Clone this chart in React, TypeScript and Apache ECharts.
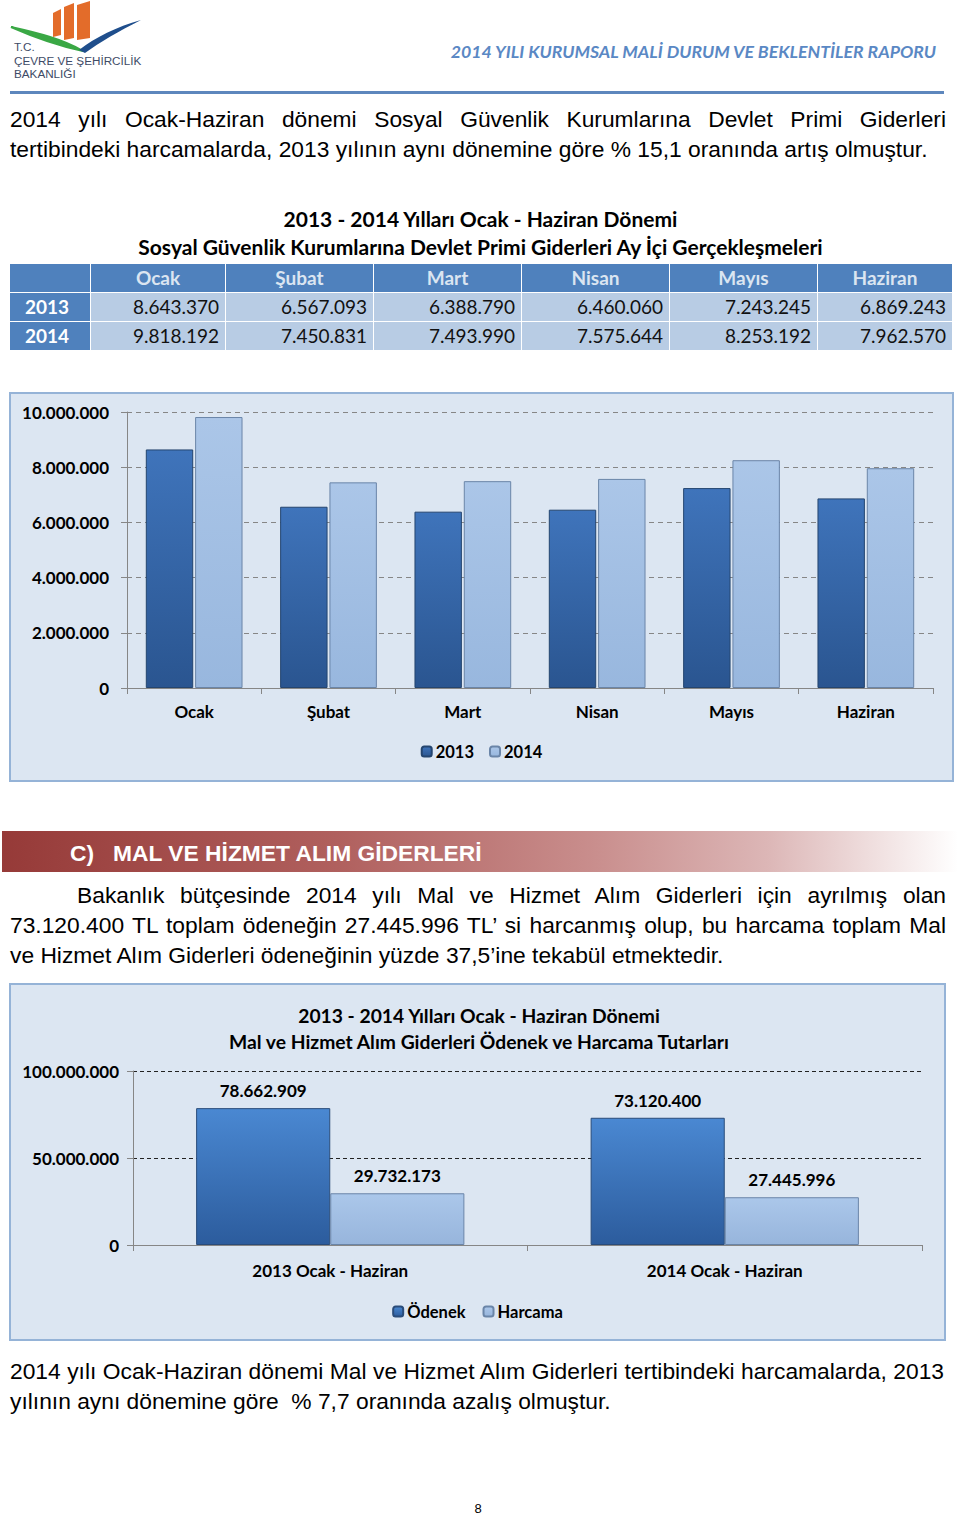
import React, { useEffect, useRef } from 'react';
import * as echarts from 'echarts';

// ---------- DATA ----------
const MONTHS = ['Ocak', 'Şubat', 'Mart', 'Nisan', 'Mayıs', 'Haziran'];
const YEARS = ['2013', '2014'];
const VALUES_2013 = [8643370, 6567093, 6388790, 6460060, 7243245, 6869243];
const VALUES_2014 = [9818192, 7450831, 7493990, 7575644, 8253192, 7962570];

const PERIODS = ['2013 Ocak - Haziran', '2014 Ocak - Haziran'];
const SERIES2 = ['Ödenek', 'Harcama'];
const ODENEK = [78662909, 73120400];
const HARCAMA = [29732173, 27445996];

const Y1_MAX = 10000000;
const Y1_STEP = 2000000;
const Y2_MAX = 100000000;
const Y2_STEP = 50000000;

// ---------- LAYOUT / STYLE ----------
const CAL = 'Lato, "Open Sans", sans-serif';
const ARIAL = '"Liberation Sans", Arial, sans-serif';
const TABLE_EDGES = [10, 90, 225, 373, 521, 669, 817, 952];
const BODY_SIZE = 22.8;

const fmt = (n: number) => String(n).replace(/\B(?=(\d{3})+(?!\d))/g, '.');

const grad = (a: string, b: string) =>
  new echarts.graphic.LinearGradient(0, 0, 0, 1, [
    { offset: 0, color: a },
    { offset: 1, color: b },
  ]);

function EChart({ option, style }: { option: any; style: React.CSSProperties }) {
  const ref = useRef<HTMLDivElement>(null);
  useEffect(() => {
    const c = echarts.init(ref.current!, undefined, { renderer: 'svg' });
    c.setOption(option);
    return () => c.dispose();
  }, []);
  return <div ref={ref} style={style} />;
}

const axisLabelStyle = { fontFamily: CAL, fontWeight: 'bold' as const, fontSize: 17, color: '#000' };

function chart1Option() {
  return {
    animation: false,
    grid: { left: 118, right: 21, top: 20, bottom: 94 },
    legend: {
      data: YEARS,
      top: 346,
      left: 'center',
      itemWidth: 10,
      itemHeight: 10,
      itemGap: 15,
      textStyle: { ...axisLabelStyle, fontSize: 16.5, padding: [0, 0, 0, -1] },
    },
    xAxis: {
      type: 'category',
      data: MONTHS,
      axisLine: { lineStyle: { color: '#868686', width: 1 } },
      axisTick: { show: true, length: 6, interval: 0, lineStyle: { color: '#868686' } },
      axisLabel: { ...axisLabelStyle, margin: 15 },
    },
    yAxis: {
      type: 'value',
      min: 0,
      max: Y1_MAX,
      interval: Y1_STEP,
      axisLine: { show: true, lineStyle: { color: '#868686' } },
      axisTick: { show: true, length: 6, lineStyle: { color: '#868686' } },
      splitLine: { lineStyle: { type: [5, 4], color: '#868686' } },
      axisLabel: { ...axisLabelStyle, margin: 18, formatter: (v: number) => fmt(v) },
    },
    series: [
      {
        type: 'bar',
        name: YEARS[0],
        data: VALUES_2013,
        barGap: '4%',
        barCategoryGap: '28%',
        itemStyle: { color: grad('#3f74bb', '#2a5590'), borderColor: '#24456f', borderWidth: 1 },
      },
      {
        type: 'bar',
        name: YEARS[1],
        data: VALUES_2014,
        itemStyle: { color: grad('#abc6e8', '#98b7de'), borderColor: '#6a85a8', borderWidth: 1 },
      },
    ],
  };
}

function chart2Option() {
  const lbl = { show: true, position: 'top', distance: 9, ...axisLabelStyle, formatter: (p: any) => fmt(p.value) };
  return {
    animation: false,
    title: {
      text: '2013 - 2014 Yılları Ocak - Haziran Dönemi\nMal ve Hizmet Alım Giderleri Ödenek ve Harcama Tutarları',
      left: 465,
      top: 14,
      textAlign: 'center',
      textStyle: { fontFamily: CAL, fontWeight: 'bold', fontSize: 19.3, lineHeight: 26, color: '#000', align: 'center' },
    },
    grid: { left: 124, right: 24, top: 88, bottom: 96 },
    legend: {
      data: SERIES2,
      top: 315,
      left: 'center',
      itemWidth: 10,
      itemHeight: 10,
      itemGap: 17,
      textStyle: { ...axisLabelStyle, fontSize: 16.5, padding: [0, 0, 0, -1] },
    },
    xAxis: {
      type: 'category',
      data: PERIODS,
      axisLine: { lineStyle: { color: '#868686' } },
      axisTick: { show: true, length: 6, interval: 0, lineStyle: { color: '#868686' } },
      axisLabel: { ...axisLabelStyle, margin: 17 },
    },
    yAxis: {
      type: 'value',
      min: 0,
      max: Y2_MAX,
      interval: Y2_STEP,
      axisLine: { show: true, lineStyle: { color: '#868686' } },
      axisTick: { show: true, length: 6, lineStyle: { color: '#868686' } },
      splitLine: { lineStyle: { type: [4, 3], color: '#222' } },
      axisLabel: { ...axisLabelStyle, margin: 14, formatter: (v: number) => fmt(v) },
    },
    series: [
      {
        type: 'bar',
        name: SERIES2[0],
        data: ODENEK,
        barGap: '0%',
        barCategoryGap: '32%',
        label: lbl,
        itemStyle: { color: grad('#4a88d2', '#2c5c9d'), borderColor: '#2a4c7a', borderWidth: 1 },
      },
      {
        type: 'bar',
        name: SERIES2[1],
        data: HARCAMA,
        label: lbl,
        itemStyle: { color: grad('#abc7ea', '#97b5dc'), borderColor: '#6a85a8', borderWidth: 1 },
      },
    ],
  };
}

function TextLine({ y, x, w, text, justify }: { y: number; x: number; w: number; text: string; justify?: boolean }) {
  return (
    <div
      style={{
        position: 'absolute',
        top: y - 15,
        left: x,
        width: w,
        height: 30,
        lineHeight: '30px',
        fontSize: BODY_SIZE,
        fontFamily: ARIAL,
        color: '#000',
        textAlign: justify ? 'justify' : 'left',
        textAlignLast: justify ? 'justify' : 'left',
        whiteSpace: justify ? 'nowrap' : 'pre',
      } as any}
    >
      {text}
    </div>
  );
}

function Cell({ x0, x1, y, h, bg, children, align, style }: any) {
  return (
    <div
      style={{
        position: 'absolute',
        left: x0,
        top: y,
        width: x1 - x0,
        height: h,
        background: bg,
        lineHeight: h + 'px',
        textAlign: align,
        boxSizing: 'border-box',
        paddingRight: align === 'right' ? 6 : 0,
        fontFamily: CAL,
        fontSize: 19,
        ...style,
      }}
    >
      {children}
    </div>
  );
}

export default function App() {
  const rows = [VALUES_2013, VALUES_2014];
  return (
    <div style={{ position: 'absolute', left: 0, top: 0, width: 960, height: 1515, background: '#fff', overflow: 'hidden' }}>
      {/* Logo */}
      <svg width={150} height={85} style={{ position: 'absolute', left: 0, top: 0 }}>
        <polygon points="53,13 61,9 61,35 53,37" fill="#e36c2a" />
        <polygon points="64,7 74,3 74,38 64,40" fill="#e36c2a" />
        <polygon points="77,5 90,1 90,38 77,40" fill="#e36c2a" />
        <path d="M11,27 C38,33 62,39 83,51 C60,46 36,38 11,27 Z" fill="#3aa845" stroke="#3aa845" strokeWidth={2} />
        <path d="M79,50 C96,37 116,27 141,20 C119,31 100,42 85,53 Z" fill="#1f4e8c" />
      </svg>
      <div style={{ position: 'absolute', left: 14, top: 40, fontFamily: ARIAL, fontSize: 11.7, lineHeight: '13.5px', color: '#3e4b66' }}>
        T.C.<br />ÇEVRE VE ŞEHİRCİLİK<br />BAKANLIĞI
      </div>
      <div
        style={{
          position: 'absolute',
          right: 24,
          top: 41,
          fontFamily: CAL,
          fontStyle: 'italic',
          fontWeight: 'bold',
          fontSize: 17.7,
          lineHeight: '22px',
          color: '#5a88c4',
        }}
      >
        2014 YILI KURUMSAL MALİ DURUM VE BEKLENTİLER RAPORU
      </div>
      <div style={{ position: 'absolute', left: 10, top: 91, width: 934, height: 3, background: '#5d87bd' }} />

      {/* Paragraph 1 */}
      <TextLine y={119} x={10} w={936} justify text="2014 yılı Ocak-Haziran dönemi Sosyal Güvenlik Kurumlarına Devlet Primi Giderleri" />
      <TextLine y={149} x={10} w={936} text="tertibindeki harcamalarda, 2013 yılının aynı dönemine göre % 15,1 oranında artış olmuştur." />

      {/* Table title */}
      <div style={{ position: 'absolute', left: 0, width: 961, top: 205, textAlign: 'center', fontFamily: CAL, fontWeight: 'bold', fontSize: 21, lineHeight: '28px', color: '#000' }}>
        2013 - 2014 Yılları Ocak - Haziran Dönemi
        <br />
        Sosyal Güvenlik Kurumlarına Devlet Primi Giderleri Ay İçi Gerçekleşmeleri
      </div>

      {/* Table */}
      <Cell x0={TABLE_EDGES[0]} x1={TABLE_EDGES[1]} y={264} h={28} bg="#4f81bd" />
      {MONTHS.map((m, i) => (
        <Cell key={m} x0={TABLE_EDGES[i + 1] + 1} x1={TABLE_EDGES[i + 2]} y={264} h={28} bg="#4f81bd" align="center" style={{ fontWeight: 'bold', color: '#dbe5f1' }}>
          {m}
        </Cell>
      ))}
      {rows.map((vals, r) => (
        <React.Fragment key={r}>
          <Cell x0={TABLE_EDGES[0]} x1={TABLE_EDGES[1]} y={293 + r * 29} h={28} bg="#4f81bd" align="center" style={{ fontWeight: 'bold', color: '#fff', paddingRight: 6 }}>
            {YEARS[r]}
          </Cell>
          {vals.map((v, i) => (
            <Cell key={i} x0={TABLE_EDGES[i + 1] + 1} x1={TABLE_EDGES[i + 2]} y={293 + r * 29} h={28} bg="#b8cce4" align="right" style={{ color: '#111' }}>
              {fmt(v)}
            </Cell>
          ))}
        </React.Fragment>
      ))}

      {/* Chart 1 box */}
      <div style={{ position: 'absolute', left: 9, top: 392, width: 941, height: 386, background: '#dce6f2', border: '2px solid #95b3d7' }} />
      <EChart option={chart1Option()} style={{ position: 'absolute', left: 9, top: 392, width: 945, height: 390 }} />

      {/* Section header */}
      <div
        style={{
          position: 'absolute',
          left: 2,
          top: 831,
          width: 956,
          height: 41,
          background: 'linear-gradient(to right, #963a38 0%, #b0605e 35%, #c98e8d 62%, #dcb6b6 80%, #ffffff 100%)',
        }}
      />
      <div style={{ position: 'absolute', left: 70, top: 837, height: 32, lineHeight: '32px', fontFamily: ARIAL, fontWeight: 'bold', fontSize: 22.8, color: '#fff', whiteSpace: 'pre' }}>
        {'C)   MAL VE HİZMET ALIM GİDERLERİ'}
      </div>

      {/* Paragraph 2 */}
      <TextLine y={895} x={77} w={869} justify text="Bakanlık bütçesinde 2014 yılı Mal ve Hizmet Alım Giderleri için ayrılmış olan" />
      <TextLine y={925} x={10} w={936} justify text="73.120.400 TL toplam ödeneğin 27.445.996 TL’ si harcanmış olup, bu harcama toplam Mal" />
      <TextLine y={955} x={10} w={936} text="ve Hizmet Alım Giderleri ödeneğinin yüzde 37,5’ine tekabül etmektedir." />

      {/* Chart 2 box */}
      <div style={{ position: 'absolute', left: 9, top: 983, width: 933, height: 354, background: '#dce6f2', border: '2px solid #95b3d7' }} />
      <EChart option={chart2Option()} style={{ position: 'absolute', left: 9, top: 983, width: 937, height: 358 }} />

      {/* Paragraph 3 */}
      <TextLine y={1371} x={10} w={934} justify text="2014 yılı Ocak-Haziran dönemi Mal ve Hizmet Alım Giderleri tertibindeki harcamalarda, 2013" />
      <TextLine y={1401} x={10} w={934} text="yılının aynı dönemine göre  % 7,7 oranında azalış olmuştur." />

      <div style={{ position: 'absolute', left: 0, width: 956, top: 1502, textAlign: 'center', fontFamily: ARIAL, fontSize: 13, lineHeight: '14px', color: '#000' }}>8</div>
    </div>
  );
}
